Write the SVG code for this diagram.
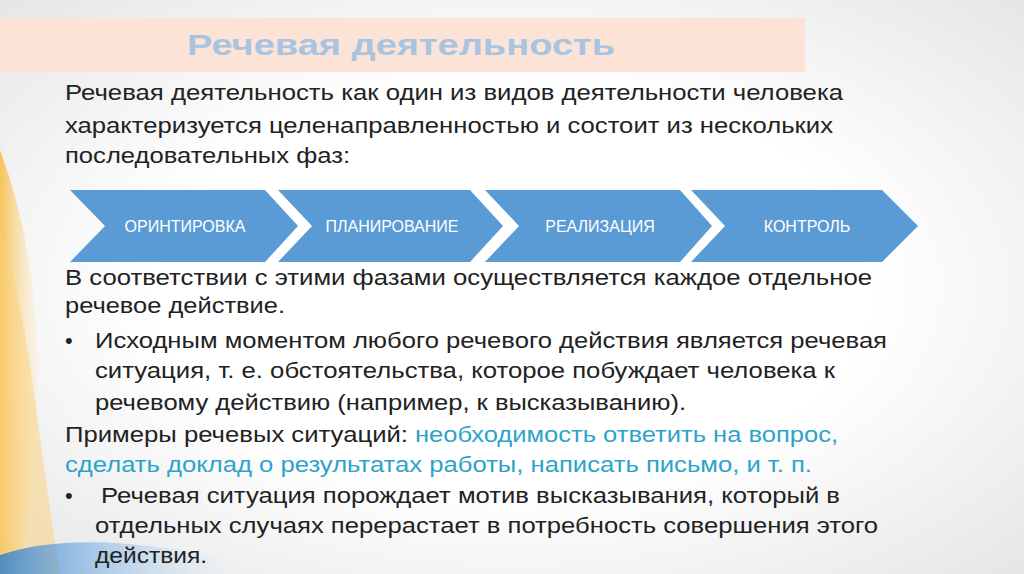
<svg xmlns="http://www.w3.org/2000/svg" width="1024" height="574" viewBox="0 0 1024 574">
<defs>
<radialGradient id="bg" cx="0.5" cy="0.5" r="0.7"><stop offset="0.5" stop-color="#ffffff"/><stop offset="1" stop-color="#e6e6e6"/></radialGradient>
<linearGradient id="or" x1="0" y1="0" x2="1" y2="0"><stop offset="0" stop-color="#f7b733"/><stop offset="1" stop-color="#fde9c0" stop-opacity="0.3"/></linearGradient>
<linearGradient id="bl" x1="0" y1="0" x2="1" y2="0"><stop offset="0" stop-color="#2a7fd4"/><stop offset="1" stop-color="#a8d4f5" stop-opacity="0"/></linearGradient>
</defs>
<style>
.b{font-family:"Liberation Sans",Arial,sans-serif;font-size:22px;fill:#222}
.c{fill:#2ea3c9}
.ch{fill:#5b9bd5}
.ct{font-family:"Liberation Sans",Arial,sans-serif;font-size:16px;fill:#fff;text-anchor:middle}
</style>
<rect width="1024" height="574" fill="url(#bg)"/>
<path d="M0 150 C40 260 50 380 20 574 L0 574 Z" fill="url(#or)" opacity="0.8"/>
<path d="M0 230 C30 320 35 420 60 574 L0 574 Z" fill="#fbd27a" opacity="0.5"/>
<path d="M0 555 C60 535 140 540 230 560 L230 574 L0 574 Z" fill="url(#bl)" opacity="0.8"/>
<g id="title">
<rect x="0" y="18" width="805" height="54" fill="#fbe3d8"/>
<text x="187" y="55" font-family="Liberation Sans,Arial,sans-serif" font-size="30" font-weight="bold" fill="#a9c4e0" textLength="428" lengthAdjust="spacingAndGlyphs">Речевая деятельность</text>
</g>
<g id="intro" class="b">
<text x="65" y="100" class="b" textLength="778" lengthAdjust="spacingAndGlyphs">Речевая деятельность как один из видов деятельности человека</text>
<text x="65" y="133" class="b" textLength="768" lengthAdjust="spacingAndGlyphs">характеризуется целенаправленностью и состоит из нескольких</text>
<text x="65" y="163" class="b" textLength="285" lengthAdjust="spacingAndGlyphs">последовательных фаз:</text>
</g>
<g id="phase1"><path class="ch" d="M70 190 H265 L298 226 L265 262 H70 L105 226 Z"/><text class="ct" x="185" y="232">ОРИНТИРОВКА</text></g>
<g id="phase2"><path class="ch" d="M278 190 H470 L503 226 L470 262 H278 L312 226 Z"/><text class="ct" x="392" y="232">ПЛАНИРОВАНИЕ</text></g>
<g id="phase3"><path class="ch" d="M485 190 H680 L712 226 L680 262 H485 L519 226 Z"/><text class="ct" x="600" y="232">РЕАЛИЗАЦИЯ</text></g>
<g id="phase4"><path class="ch" d="M691 190 H882 L918 226 L882 262 H691 L725 226 Z"/><text class="ct" x="807" y="232">КОНТРОЛЬ</text></g>
<g id="connectors"/>
<g id="body">
<text x="65" y="285" class="b" textLength="807" lengthAdjust="spacingAndGlyphs">В соответствии с этими фазами осуществляется каждое отдельное</text>
<text x="65" y="313" class="b" textLength="220" lengthAdjust="spacingAndGlyphs">речевое действие.</text>
<text x="65" y="348" class="b">•</text>
<text x="95" y="348" class="b" textLength="792" lengthAdjust="spacingAndGlyphs">Исходным моментом любого речевого действия является речевая</text>
<text x="95" y="378" class="b" textLength="740" lengthAdjust="spacingAndGlyphs">ситуация, т. е. обстоятельства, которое побуждает человека к</text>
<text x="95" y="410" class="b" textLength="591" lengthAdjust="spacingAndGlyphs">речевому действию (например, к высказыванию).</text>
<text x="65" y="442" class="b" textLength="343" lengthAdjust="spacingAndGlyphs">Примеры речевых ситуаций:</text>
<text x="415" y="442" class="b c" textLength="423" lengthAdjust="spacingAndGlyphs">необходимость ответить на вопрос,</text>
<text x="65" y="472" class="b c" textLength="747" lengthAdjust="spacingAndGlyphs">сделать доклад о результатах работы, написать письмо, и т. п.</text>
<text x="65" y="503" class="b">•</text>
<text x="101" y="503" class="b" textLength="739" lengthAdjust="spacingAndGlyphs">Речевая ситуация порождает мотив высказывания, который в</text>
<text x="95" y="533" class="b" textLength="783" lengthAdjust="spacingAndGlyphs">отдельных случаях перерастает в потребность совершения этого</text>
<text x="95" y="563" class="b" textLength="112" lengthAdjust="spacingAndGlyphs">действия.</text>
</g>
</svg>
